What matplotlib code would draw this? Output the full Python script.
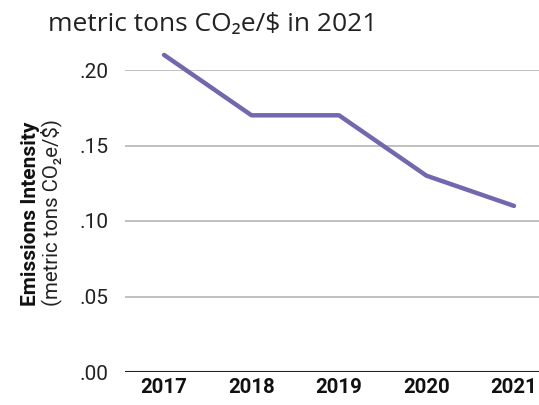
import matplotlib.pyplot as plt

years = ["2017", "2018", "2019", "2020", "2021"]
intensity = [0.21, 0.17, 0.17, 0.13, 0.11]
yticks = [0.0, 0.05, 0.10, 0.15, 0.20]
ytick_labels = [".00", ".05", ".10", ".15", ".20"]

W, H = 539, 405
fig = plt.figure(figsize=(W / 100, H / 100), dpi=100)
ax = fig.add_axes([125 / W, 1 - 372 / H, 1 - 125 / W, (372 - 70) / H])

fams = ["Roboto", "DejaVu Sans"]

x = list(range(len(years)))
ax.plot(x, intensity, color="#7467b0", lw=3.2, clip_on=False,
        solid_capstyle="round", solid_joinstyle="round", zorder=3)

ax.set_xlim(-0.446, 4.286)
ax.set_ylim(0, 0.2)
ax.set_yticks(yticks)
ax.set_yticklabels(ytick_labels, family=fams, fontsize=15, color="#222222")
ax.set_xticks(x)
ax.set_xticklabels(years, family=fams, fontsize=14.7, fontweight="bold",
                   color="#111111")
ax.tick_params(axis="both", length=0)
ax.tick_params(axis="y", pad=12)
ax.tick_params(axis="x", pad=4)

for v in yticks[1:]:
    ax.axhline(v, color="#b5b5b5", lw=1.2, zorder=1)
ax.axhline(0, color="#222222", lw=1.5, zorder=2)

for s in ax.spines.values():
    s.set_visible(False)

fig.text(48 / W, 1 - 24 / H, "metric tons CO\u2082e/$ in 2021",
         family=["Open Sans", "DejaVu Sans"], fontsize=19, color="#222222",
         ha="left", va="center")

fig.text(31 / W, 1 - 214 / H, "Emissions Intensity", family=fams,
         fontsize=15, fontweight="bold", rotation=90,
         ha="center", va="center", color="#111111")
fig.text(51 / W, 1 - 213 / H, "(metric tons CO\u2082e/$)", family=fams,
         fontsize=14.7, rotation=90, ha="center", va="center",
         color="#222222")

fig.savefig("out.png", dpi=100)
